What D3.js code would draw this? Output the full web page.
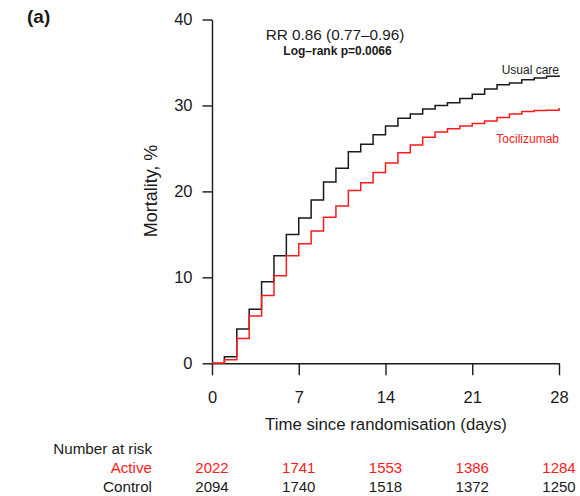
<!DOCTYPE html>
<html><head><meta charset="utf-8">
<script src="https://cdn.jsdelivr.net/npm/d3@7"></script>
<style>
html,body{margin:0;padding:0;background:#fff;}
svg{display:block;font-family:"Liberation Sans",Arial,Helvetica,sans-serif;}
</style></head>
<body><svg id="chart" width="580" height="496"></svg>
<script>
// ---- data ----
const days = [0,1,2,3,4,5,6,7,8,9,10,11,12,13,14,15,16,17,18,19,20,21,22,23,24,25,26,27,28];
const usualCare = [0,0.77,4.0,6.3,9.5,12.5,15.0,16.9,19.0,21.1,22.7,24.6,25.5,26.6,27.6,28.5,29.0,29.6,30.0,30.3,30.8,31.3,31.9,32.4,32.6,33.0,33.2,33.4,33.5];
const tocilizumab = [0,0.4,2.9,5.5,7.9,10.2,12.5,13.9,15.4,17.0,18.3,20.1,21.0,22.2,23.3,24.5,25.4,26.3,26.9,27.3,27.6,27.9,28.2,28.6,29.0,29.3,29.4,29.45,29.7];
const xTicks = [0,7,14,21,28];
const yTicks = [0,10,20,30,40];
const riskTimes = [0,7,14,21,28];
const riskActive = [2022,1741,1553,1386,1284];
const riskControl = [2094,1740,1518,1372,1250];
const seriesNames = ["Usual care","Tocilizumab"];

const svg = d3.select("#chart");
const x = d3.scaleLinear().domain([0,28]).range([212,559]);
const y = d3.scaleLinear().domain([0,40]).range([363.3,19.5]);
const ink = "#1a1a1a", red = "#ff1a1a";

// axes
const gy = svg.append("g").attr("transform","translate(212,0)")
  .call(d3.axisLeft(y).tickValues(yTicks).tickSize(9.5).tickSizeOuter(0).tickPadding(10));
const gx = svg.append("g").attr("transform","translate(0,363.3)")
  .call(d3.axisBottom(x).tickValues(xTicks).tickSize(12).tickSizeOuter(0).tickPadding(16));
[gx,gy].forEach(g=>{
  g.selectAll("path,line").attr("stroke",ink).attr("stroke-width",1.4);
  g.selectAll("text").attr("fill",ink).attr("font-size",16.5).attr("font-family","Liberation Sans, Arial, sans-serif");
});

// curves
const line = d3.line().x((d,i)=>x(days[i])).y(d=>y(d)).curve(d3.curveStepAfter);
svg.append("path").datum(usualCare).attr("d",line).attr("fill","none").attr("stroke",ink).attr("stroke-width",1.5);
svg.append("path").datum(tocilizumab).attr("d",line).attr("fill","none").attr("stroke",red).attr("stroke-width",1.5);

// labels
svg.append("text").attr("x",27).attr("y",23).attr("font-size",19).attr("font-weight","bold").attr("fill",ink).text("(a)");
svg.append("text").attr("x",335).attr("y",40).attr("text-anchor","middle").attr("font-size",15.3).attr("fill",ink).text("RR 0.86 (0.77\u20130.96)");
svg.append("text").attr("x",337.5).attr("y",55).attr("text-anchor","middle").attr("font-size",12).attr("font-weight","bold").attr("fill",ink).text("Log\u2013rank p=0.0066");
svg.append("text").attr("x",559).attr("y",74).attr("text-anchor","end").attr("font-size",12).attr("fill",ink).text(seriesNames[0]);
svg.append("text").attr("x",559).attr("y",142.5).attr("text-anchor","end").attr("font-size",12).attr("fill",red).text(seriesNames[1]);
svg.append("text").attr("transform","translate(157,191) rotate(-90)").attr("text-anchor","middle").attr("font-size",18).attr("fill",ink).text("Mortality, %");
svg.append("text").attr("x",386).attr("y",430).attr("text-anchor","middle").attr("font-size",16.8).attr("fill",ink).text("Time since randomisation (days)");

// number at risk
svg.append("text").attr("x",152).attr("y",454).attr("text-anchor","end").attr("font-size",15.2).attr("fill",ink).text("Number at risk");
svg.append("text").attr("x",152).attr("y",472.5).attr("text-anchor","end").attr("font-size",15.2).attr("fill",red).text("Active");
svg.append("text").attr("x",152).attr("y",491.5).attr("text-anchor","end").attr("font-size",15.2).attr("fill",ink).text("Control");
svg.append("g").selectAll("text").data(riskActive).join("text")
  .attr("x",(d,i)=>x(riskTimes[i])).attr("y",472.5).attr("text-anchor","middle").attr("font-size",15).attr("fill",red).text(d=>d);
svg.append("g").selectAll("text").data(riskControl).join("text")
  .attr("x",(d,i)=>x(riskTimes[i])).attr("y",491.5).attr("text-anchor","middle").attr("font-size",15).attr("fill",ink).text(d=>d);
</script></body></html>
